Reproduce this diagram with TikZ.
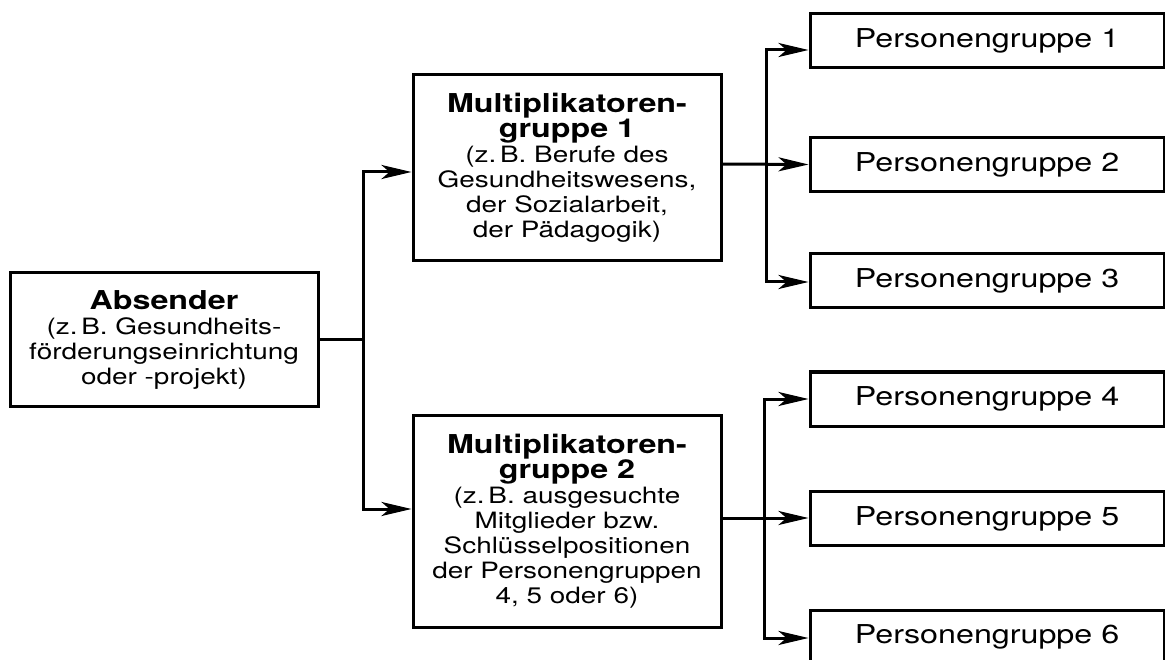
\documentclass[tikz,border=0pt]{standalone}
\usepackage{fontspec}
\setmainfont{TeX Gyre Heros}[FakeStretch=1.24]
\usetikzlibrary{arrows.meta}
\newcommand{\hd}[1]{{\bfseries\fontsize{26}{25}\selectfont #1}}
\begin{document}
\begin{tikzpicture}[x=1pt,y=-1pt,
  box/.style={draw, line width=3pt, align=center, inner sep=0pt,
              font=\fontsize{22.5}{25}\selectfont},
  grp/.style={box, minimum width=354pt, minimum height=54pt,
              font=\fontsize{26}{26}\selectfont},
  link/.style={line width=3pt},
  arr/.style={link, -{Stealth[length=30pt,width=14pt,inset=8pt]}}]
\useasboundingbox (0,0) rectangle (1165,660);

% sender
\node[box, minimum width=308pt, minimum height=133pt] (abs) at (164,339.5)
  {\hd{Absender}\\(z.\,B. Gesundheits-\\förderungseinrichtung\\oder -projekt)};

% multiplier groups
\node[box, minimum width=308pt, minimum height=186pt] (mg1) at (567,168)
  {\hd{Multiplikatoren-}\\\hd{gruppe 1}\\(z.\,B. Berufe des\\Gesundheitswesens,\\der Sozialarbeit,\\der Pädagogik)};
\node[box, minimum width=308pt, minimum height=212pt] (mg2) at (567,521)
  {\hd{Multiplikatoren-}\\\hd{gruppe 2}\\(z.\,B. ausgesuchte\\Mitglieder bzw.\\Schlüsselpositionen\\der Personengruppen\\4, 5 oder 6)};

% target groups
\node[grp] (p1) at (987,41)    {Personengruppe 1};
\node[grp] (p2) at (987,164.5) {Personengruppe 2};
\node[grp] (p3) at (987,281)   {Personengruppe 3};
\node[grp] (p4) at (987,399)   {Personengruppe 4};
\node[grp] (p5) at (987,518.5) {Personengruppe 5};
\node[grp] (p6) at (987,637)   {Personengruppe 6};

% branching points
\coordinate (j0) at (363,340);
\coordinate (j1) at (766,164);
\coordinate (j2) at (764,518);

% sender to multipliers
\draw[link] (abs.east |- j0) -- (j0);
\draw[arr] (j0) |- ([yshift=-4pt]mg1.west);
\draw[arr] (j0) |- ([yshift=12pt]mg2.west);

% multiplier group 1 to groups 1-3
\draw[arr] ([yshift=4pt]mg1.east) -- (p2.west);
\draw[arr] (j1) |- ([yshift=-9pt]p1.west);
\draw[arr] (j1) |- ([yshift=-1pt]p3.west);

% multiplier group 2 to groups 4-6
\draw[arr] ([yshift=3pt]mg2.east) -- (p5.west |- j2);
\draw[arr] (j2) |- (p4.west);
\draw[arr] (j2) |- ([yshift=-1pt]p6.west);
\end{tikzpicture}
\end{document}
